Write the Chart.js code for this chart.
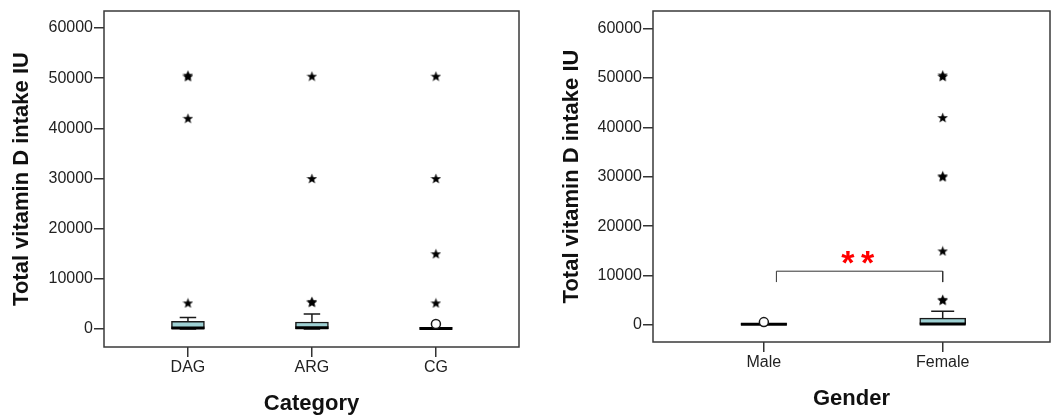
<!DOCTYPE html>
<html>
<head>
<meta charset="utf-8">
<script src="https://cdn.jsdelivr.net/npm/chart.js@4.4.1/dist/chart.umd.min.js"></script>
<style>
  html, body { margin: 0; padding: 0; background: #fff; }
  #wrap { position: relative; width: 1057px; height: 419px; }
  canvas { position: absolute; top: 0; }
  #cLeft  { left: 0; }
  #cRight { left: 530px; }
</style>
</head>
<body>
<div id="wrap">
  <canvas id="cLeft" width="530" height="419"></canvas>
  <canvas id="cRight" width="527" height="419"></canvas>
</div>
<script>
// ── Data ────────────────────────────────────────────────────────────────────
const yTicks = [0, 10000, 20000, 30000, 40000, 50000, 60000];

// left panel: by category
const catLabels   = ["DAG", "ARG", "CG"];
const catQ1       = [50, 80, 0];
const catQ3       = [1550, 1400, 250];
const catMedian   = [200, 250, 100];
const catWhiskLo  = [0, 0, 0];
const catWhiskHi  = [2300, 3000, 250];
const catStars    = [
  [50300, 50600, 42000, 5200],
  [50400, 30000, 5300, 5500],
  [50400, 30000, 15000, 5200],
];
const catCircles  = [[], [], [1000]];

// right panel: by gender
const genLabels   = ["Male", "Female"];
const genQ1       = [0, 0];
const genQ3       = [300, 1400];
const genMedian   = [150, 200];
const genWhiskLo  = [0, 0];
const genWhiskHi  = [300, 2800];
const genStars    = [
  [],
  [50300, 50600, 42000, 30000, 30200, 15000, 5000, 5200],
];
const genCircles  = [[600], []];

// significance bracket between Male and Female
const bracketX    = [1.07, 1.07, 2.0, 2.0];
const bracketY    = [8700, 10900, 10900, 8700];
const sigMarks    = ["*", "*"];
const sigX        = [1.47, 1.58];
const sigY        = 13700;

// ── Shared styles ───────────────────────────────────────────────────────────
const FONT    = "Arial, 'Liberation Sans', sans-serif";
const INK     = "#1a1a1a";
const BOXFILL = "#9dd0d3";

// filled five-point star used for extreme outliers
function makeStar(size) {
  const c = document.createElement("canvas");
  c.width = c.height = size;
  const g = c.getContext("2d");
  const cx = size / 2, cy = size / 2 + 0.5, R = size / 2, r = R * 0.42;
  g.beginPath();
  for (let k = 0; k < 10; k++) {
    const a = -Math.PI / 2 + k * Math.PI / 5;
    const rr = k % 2 ? r : R;
    g.lineTo(cx + rr * Math.cos(a), cy + rr * Math.sin(a));
  }
  g.closePath();
  g.fillStyle = "#000";
  g.fill();
  return c;
}
const starImg = makeStar(11);

// whiskers, caps, medians, frame and annotation text
const boxExtras = {
  id: "boxExtras",
  beforeDatasetsDraw(chart) {
    const o = chart.options.plugins.boxExtras;
    const { ctx, scales: { x, y } } = chart;
    ctx.save();
    ctx.strokeStyle = INK;
    ctx.lineWidth = 1.5;
    o.q1.forEach((_, i) => {
      const px = x.getPixelForValue(i + 1);
      const half = o.boxPx / 4;
      [[o.q3[i], o.hi[i]], [o.q1[i], o.lo[i]]].forEach(([from, to]) => {
        if (from === to) return;
        const p0 = y.getPixelForValue(from), p1 = y.getPixelForValue(to);
        ctx.beginPath();
        ctx.moveTo(px, p0); ctx.lineTo(px, p1);
        ctx.moveTo(px - half, p1); ctx.lineTo(px + half, p1);
        ctx.stroke();
      });
    });
    ctx.restore();
  },
  afterDatasetDraw(chart, args) {
    if (args.meta.type !== "bar") return;
    const o = chart.options.plugins.boxExtras;
    const { ctx, scales: { x, y } } = chart;
    ctx.save();
    ctx.strokeStyle = "#000";
    ctx.lineWidth = 3;
    o.med.forEach((m, i) => {
      const px = x.getPixelForValue(i + 1), py = y.getPixelForValue(m);
      ctx.beginPath();
      ctx.moveTo(px - o.boxPx / 2, py); ctx.lineTo(px + o.boxPx / 2, py);
      ctx.stroke();
    });
    ctx.restore();
  },
  afterDraw(chart) {
    const o = chart.options.plugins.boxExtras;
    const { ctx, chartArea: a, scales: { x, y } } = chart;
    ctx.save();
    ctx.strokeStyle = "#3a3a3a";
    ctx.lineWidth = 1.5;
    ctx.strokeRect(a.left, a.top, a.right - a.left, a.bottom - a.top);
    if (o.sig) {
      ctx.fillStyle = "#ff0000";
      ctx.font = "bold 34px " + FONT;
      ctx.textAlign = "center";
      ctx.textBaseline = "alphabetic";
      const cy = y.getPixelForValue(o.sigY);
      o.sig.forEach((t, k) => {
        const m = ctx.measureText(t);
        const base = cy + (m.actualBoundingBoxAscent - m.actualBoundingBoxDescent) / 2;
        ctx.fillText(t, x.getPixelForValue(o.sigX[k]), base);
      });
    }
    ctx.restore();
  },
};

// ── Chart factory ───────────────────────────────────────────────────────────
function makeBoxChart(id, cfg) {
  const datasets = [
    {
      type: "bar",
      data: cfg.labels.map((_, i) => ({ x: i + 1, y: [cfg.q1[i], cfg.q3[i]] })),
      backgroundColor: BOXFILL,
      borderColor: INK,
      borderWidth: 1.5,
      borderSkipped: false,
      barThickness: cfg.boxPx,
      order: 10,
    },
    {
      type: "scatter",
      data: cfg.stars.flatMap((s, i) => s.map(v => ({ x: i + 1, y: v }))),
      pointStyle: starImg,
      order: 2,
    },
    {
      type: "scatter",
      data: cfg.circles.flatMap((s, i) => s.map(v => ({ x: i + 1, y: v }))),
      pointStyle: "circle",
      pointRadius: 4.5,
      backgroundColor: "#fff",
      borderColor: INK,
      borderWidth: 1.5,
      order: 1,
    },
  ];
  if (cfg.bracket) {
    datasets.push({
      type: "line",
      data: cfg.bracket[0].map((bx, k) => ({ x: bx, y: cfg.bracket[1][k] })),
      borderColor: "#333",
      borderWidth: 1,
      pointRadius: 0,
      fill: false,
      tension: 0,
      order: 5,
    });
  }

  return new Chart(document.getElementById(id), {
    data: { datasets },
    options: {
      responsive: false,
      animation: false,
      layout: { padding: { top: 11, right: cfg.rightPad, bottom: 0, left: 0 } },
      plugins: {
        legend: { display: false },
        tooltip: { enabled: false },
        boxExtras: {
          q1: cfg.q1, q3: cfg.q3, med: cfg.med, lo: cfg.lo, hi: cfg.hi,
          boxPx: cfg.boxPx, sig: cfg.sig, sigX: cfg.sigX, sigY: cfg.sigY,
        },
      },
      scales: {
        x: {
          type: "linear",
          offset: false,
          min: cfg.xMin, max: cfg.xMax,
          afterBuildTicks: s => { s.ticks = cfg.labels.map((_, i) => ({ value: i + 1 })); },
          afterFit: s => { s.height = cfg.xAxisH; },
          ticks: {
            callback: v => cfg.labels[v - 1],
            color: "#222", font: { family: FONT, size: 16 }, padding: 1, maxRotation: 0,
          },
          grid: { display: true, offset: false, drawOnChartArea: false, drawTicks: true, tickLength: 10, color: "#333", lineWidth: 1.5 },
          border: { display: false },
          title: {
            display: true, text: cfg.xTitle, color: "#111",
            font: { family: FONT, size: 22, weight: "bold" },
            padding: { top: 0, bottom: cfg.xTitlePad },
          },
        },
        y: {
          min: cfg.yMin, max: cfg.yMax,
          afterBuildTicks: s => { s.ticks = yTicks.map(v => ({ value: v })); },
          afterFit: s => { s.width = cfg.yAxisW; },
          ticks: { callback: v => String(v), color: "#222", font: { family: FONT, size: 16 }, padding: 1 },
          grid: { display: true, drawOnChartArea: false, drawTicks: true, tickLength: 10, color: "#333", lineWidth: 1.5 },
          border: { display: false },
          title: {
            display: true, text: "Total vitamin D intake IU", color: "#111",
            font: { family: FONT, size: 22, weight: "bold" },
            padding: { top: cfg.yTitlePad, bottom: 0 },
          },
        },
      },
    },
    plugins: [boxExtras],
  });
}

makeBoxChart("cLeft", {
  labels: catLabels, q1: catQ1, q3: catQ3, med: catMedian, lo: catWhiskLo, hi: catWhiskHi,
  stars: catStars, circles: catCircles,
  boxPx: 33, xMin: 0.323, xMax: 3.67, yMin: -3590, yMax: 63390,
  yAxisW: 104, yTitlePad: 8.8, xAxisH: 72, xTitlePad: 1.5, rightPad: 11,
  xTitle: "Category",
});

makeBoxChart("cRight", {
  labels: genLabels, q1: genQ1, q3: genQ3, med: genMedian, lo: genWhiskLo, hi: genWhiskHi,
  stars: genStars, circles: genCircles,
  boxPx: 46, xMin: 0.38, xMax: 2.6, yMin: -3430, yMax: 63560,
  yAxisW: 123, yTitlePad: 28.8, xAxisH: 77, xTitlePad: 7, rightPad: 7,
  xTitle: "Gender",
  bracket: [bracketX, bracketY], sig: sigMarks, sigX: sigX, sigY: sigY,
});
</script>
</body>
</html>
